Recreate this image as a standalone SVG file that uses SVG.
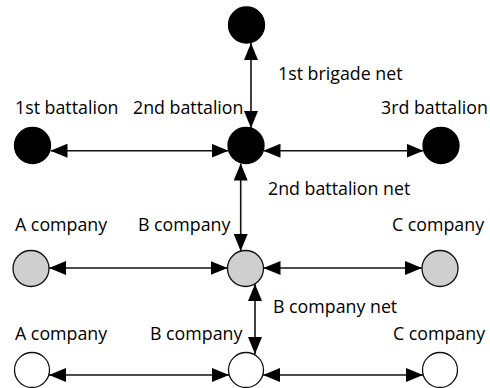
<svg xmlns="http://www.w3.org/2000/svg" width="490" height="388" viewBox="0 0 490 388">
<style>
text{font-family:"Open Sans","Liberation Sans",sans-serif;font-size:17.8px;fill:#000}
.b{fill:#000;stroke:#000;stroke-width:1.3}
.g{fill:#cfcfcf;stroke:#111;stroke-width:1.3}
.w{fill:#fff;stroke:#111;stroke-width:1.3}
.c line{stroke:#111;stroke-width:1.6;marker-start:url(#ah);marker-end:url(#ah)}
</style>
<defs>
<marker id="ah" markerUnits="userSpaceOnUse" markerWidth="17" markerHeight="14" refX="17" refY="7" orient="auto-start-reverse" viewBox="0 0 17 14">
<path d="M0,0 L17,7 L0,14 z" fill="#000"/>
</marker>
</defs>
<rect width="490" height="388" fill="#fff"/>
<g id="connectors" class="c">
<line x1="251" y1="43" x2="251" y2="128"/>
<line x1="50.5" y1="150.7" x2="228.5" y2="150.7"/>
<line x1="263.5" y1="150.7" x2="423.5" y2="150.7"/>
<line x1="240.7" y1="163.5" x2="240.7" y2="251"/>
<line x1="49" y1="268" x2="227.5" y2="268"/>
<line x1="263.5" y1="268" x2="422" y2="268"/>
<line x1="255" y1="284" x2="255" y2="354"/>
<line x1="49" y1="375" x2="229" y2="375"/>
<line x1="263" y1="375" x2="423" y2="375"/>
</g>
<g id="brigade"><circle class="b" cx="246.5" cy="25" r="18"/><text x="278" y="80">1st brigade net</text></g>
<g id="bn1"><circle class="b" cx="32.5" cy="145.5" r="18"/><text x="15" y="114">1st battalion</text></g>
<g id="bn2"><circle class="b" cx="246" cy="145.5" r="18"/><text x="133" y="114">2nd battalion</text><text x="268" y="195">2nd battalion net</text></g>
<g id="bn3"><circle class="b" cx="441" cy="145.5" r="18"/><text x="381" y="114">3rd battalion</text></g>
<g id="coA1"><circle class="g" cx="31" cy="268.5" r="18"/><text x="15" y="231">A company</text></g>
<g id="coB1"><circle class="g" cx="245.5" cy="268.5" r="18"/><text x="138" y="231">B company</text><text x="273" y="313">B company net</text></g>
<g id="coC1"><circle class="g" cx="440" cy="268.5" r="18"/><text x="392" y="231">C company</text></g>
<g id="coA2"><circle class="w" cx="32" cy="370" r="17.5"/><text x="15" y="340">A company</text></g>
<g id="coB2"><circle class="w" cx="246" cy="370" r="17.5"/><text x="150" y="340">B company</text></g>
<g id="coC2"><circle class="w" cx="440" cy="370" r="17.5"/><text x="393" y="340">C company</text></g>
</svg>
